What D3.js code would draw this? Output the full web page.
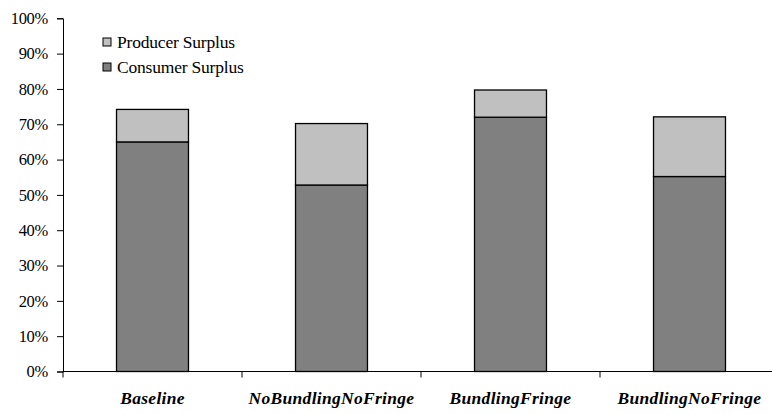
<!DOCTYPE html>
<html>
<head>
<meta charset="utf-8">
<script src="https://cdn.jsdelivr.net/npm/d3@7/dist/d3.min.js"></script>
<style>
  html, body { margin: 0; padding: 0; background: #fff; }
  svg { display: block; }
  text { font-family: "Liberation Serif", "Times New Roman", serif; fill: #000; }
</style>
</head>
<body>
<svg id="chart" width="772" height="414"></svg>
<script>
// Surplus shares by market scenario (percent)
const categories = ["Baseline", "NoBundlingNoFringe", "BundlingFringe", "BundlingNoFringe"];
const consumerSurplus = [65.0, 52.8, 72.0, 55.2];
const producerSurplus = [9.2, 17.4, 7.7, 16.9];
const yTicks = [0, 10, 20, 30, 40, 50, 60, 70, 80, 90, 100];
const seriesNames = ["Producer Surplus", "Consumer Surplus"];
const seriesColors = ["#c0c0c0", "#808080"];

const svg = d3.select("#chart");
const plotLeft = 63, plotTop = 18.3, plotBottom = 371.5;
const band = 179;
const plotRight = plotLeft + band * categories.length;

const y = d3.scaleLinear().domain([0, 100]).range([plotBottom, plotTop]);
const x = d3.scaleBand().domain(categories)
  .range([plotLeft, plotRight])
  .paddingInner(0.598).paddingOuter(0.299);

// stacked layout: consumer at the bottom, producer on top
const rows = categories.map((c, i) => ({ cat: c, cs: consumerSurplus[i], ps: producerSurplus[i] }));
const stack = d3.stack().keys(["cs", "ps"])(rows);
const fills = { cs: seriesColors[1], ps: seriesColors[0] };

svg.append("g").selectAll("g").data(stack).join("g")
  .attr("fill", d => fills[d.key])
  .selectAll("rect").data(d => d).join("rect")
  .attr("x", d => x(d.data.cat))
  .attr("width", x.bandwidth())
  .attr("y", d => y(d[1]))
  .attr("height", d => y(d[0]) - y(d[1]))
  .attr("stroke", "#000")
  .attr("stroke-width", 1.3);

// y axis
const yAxis = svg.append("g")
  .attr("transform", `translate(${plotLeft},0)`)
  .call(d3.axisLeft(y).tickValues(yTicks).tickFormat(d => d + "%").tickSize(6).tickPadding(9));
yAxis.select(".domain").attr("stroke", "#000").attr("stroke-width", 1);
yAxis.selectAll(".tick line").attr("stroke", "#000");
yAxis.selectAll(".tick text")
  .attr("font-family", "Liberation Serif")
  .attr("font-size", 16.5)
  .attr("letter-spacing", -0.3)
  .attr("fill", "#000");

// x axis with tick marks between categories
const xEdge = d3.scaleLinear().domain([0, categories.length]).range([plotLeft, plotRight]);
const xAxisG = svg.append("g").attr("transform", `translate(0,${plotBottom})`);
xAxisG.append("line")
  .attr("x1", plotLeft).attr("x2", plotRight)
  .attr("stroke", "#000").attr("stroke-width", 1);
xAxisG.selectAll("line.tk").data(d3.range(categories.length + 1)).join("line")
  .attr("class", "tk")
  .attr("x1", d => xEdge(d)).attr("x2", d => xEdge(d))
  .attr("y1", 0).attr("y2", 6)
  .attr("stroke", "#000");
xAxisG.selectAll("text").data(categories).join("text")
  .attr("x", d => x(d) + x.bandwidth() / 2)
  .attr("y", 32.5)
  .attr("text-anchor", "middle")
  .attr("font-size", 17.5)
  .attr("font-weight", "bold")
  .attr("font-style", "italic")
  .attr("letter-spacing", 0.3)
  .text(d => d);

// legend
const legend = svg.append("g").attr("transform", "translate(103,38)");
const li = legend.selectAll("g").data(seriesNames).join("g")
  .attr("transform", (d, i) => `translate(0,${i * 25})`);
li.append("rect")
  .attr("width", 8).attr("height", 8)
  .attr("fill", (d, i) => seriesColors[i])
  .attr("stroke", "#000").attr("stroke-width", 1);
li.append("text")
  .attr("x", 14).attr("y", 10)
  .attr("font-size", 17.5)
  .attr("letter-spacing", -0.2)
  .text(d => d);
</script>
</body>
</html>
